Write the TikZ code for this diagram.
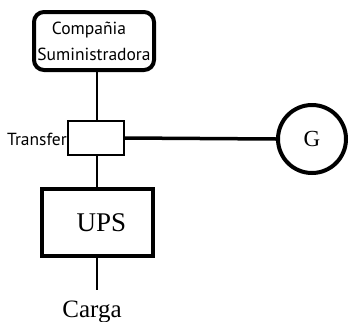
\documentclass[tikz,border=0pt]{standalone}
\usepackage{fontspec}
\setmainfont{Liberation Serif}
\newfontfamily\labelfont{PT Sans}
\begin{document}
\begin{tikzpicture}[x=1pt,y=-1pt,
  thickbox/.style={draw,line width=4pt,inner sep=0pt},
  thinbox/.style={draw,line width=1.3pt,inner sep=0pt},
  wire/.style={line width=2pt},
  heavywire/.style={line width=3.5pt},
  lbl/.style={font=\labelfont\fontsize{17.5}{26}\selectfont}
]
\useasboundingbox (0,0) rectangle (349,322);
\node[thickbox,rounded corners=10pt,minimum width=120pt,minimum height=58pt,align=center,lbl] (comp) at (94,41) {\hspace*{-10pt}Compañia\\Suministradora};
\node[thinbox,minimum width=56pt,minimum height=34pt] (tr) at (96,138) {};
\node[lbl,anchor=east,inner sep=0pt] (trl) at (67,139) {Transfer};
\node[draw,circle,line width=4pt,minimum size=68pt,inner sep=0pt,font=\fontsize{23}{26}\selectfont] (g) at (312,139) {G};
\node[thickbox,line width=4.5pt,minimum width=111pt,minimum height=67pt,font=\fontsize{27}{30}\selectfont] (ups) at (97.5,222.5) {\hspace*{8pt}UPS};
\coordinate (cend) at (97,290);
\node[font=\fontsize{25}{28}\selectfont,inner sep=0pt,anchor=base] (carga) at (92,317) {Carga};
\draw[wire] (tr.north -| 97,0) -- (comp.south -| 97,0);
\draw[heavywire] (tr.east) -- (g.west);
\draw[wire] (tr.south -| 97,0) -- (ups.north -| 97,0);
\draw[wire] (ups.south -| 97,0) -- (cend);
\end{tikzpicture}
\end{document}
